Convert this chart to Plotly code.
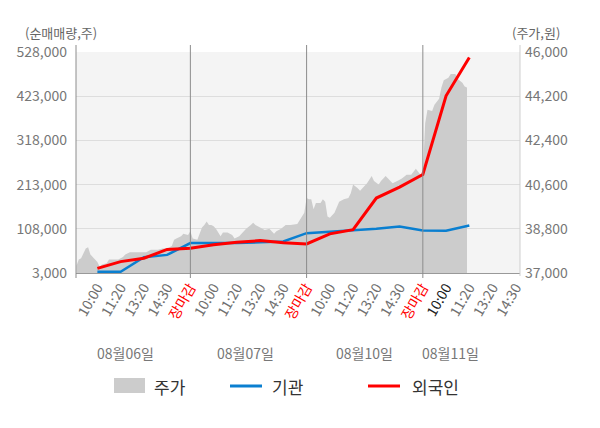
import plotly.graph_objects as go

# sample index: 10 samples per tick slot, 50 per trading day
price_idx = [1, 2, 3, 5, 6, 7, 9, 10, 11, 12, 14, 15, 17, 19, 21, 22, 24, 26, 29, 31,
             33, 36, 38, 40, 42, 43, 44, 46, 47, 49, 50, 51, 53, 55, 56, 57, 58, 59, 60, 61,
             63, 64, 66, 68, 69, 71, 72, 74, 76, 77, 78, 80, 82, 84, 86, 87, 89, 91, 93, 96,
             97, 98, 99, 100, 101, 102, 103, 104, 106, 107, 108, 109, 110, 112, 113, 114, 116, 118, 119, 120,
             122, 123, 124, 126, 128, 129, 131, 132, 134, 135, 137, 139, 141, 143, 145, 147, 148, 149, 150, 151,
             152, 154, 155, 157, 158, 159, 161, 162, 164, 165, 167, 168, 169]
price = [37300, 37550, 37600, 38000, 38050, 37750, 37550, 37450, 37250, 37350, 37400, 37550, 37550, 37550, 37650, 37750, 37850, 37850, 37850, 37850,
         37950, 37950, 38000, 38000, 38100, 38350, 38400, 38500, 38600, 38550, 38700, 38400, 38350, 38850, 38950, 39100, 38950, 38950, 38900, 38800,
         38500, 38650, 38650, 38550, 38400, 38500, 38600, 38800, 38950, 39050, 38950, 38850, 38750, 38800, 38600, 38700, 38800, 38950, 38950, 39000,
         39150, 39300, 39450, 40050, 40000, 40000, 39600, 39850, 39850, 40000, 39900, 39300, 39250, 39450, 39650, 39900, 40000, 40050, 40250, 40600,
         40450, 40350, 40450, 40650, 40950, 40750, 40600, 40750, 40950, 40850, 40650, 40750, 40850, 41000, 41000, 41250, 41100, 41000, 41000, 43100,
         43650, 43600, 43850, 44100, 44550, 44850, 44950, 45100, 45100, 44900, 44750, 44600, 44550]

flow_idx = [10, 20, 30, 40, 50, 60, 70, 80, 90, 100, 110, 120, 130, 140, 150, 160, 170]
institution = [6000, 6000, 40500, 46000, 74000, 74000, 74500, 76000, 78000, 97700,
               100800, 103200, 108000, 113500, 104000, 103200, 116000]
foreign = [14000, 30000, 38000, 59000, 62000, 70000, 76000, 80000, 75000, 72000,
           96000, 106000, 181000, 207000, 237000, 424000, 515000]

tick_idx = list(range(10, 200, 10))
day_times = ["10:00", "11:20", "13:20", "14:30", '<span style="color:#ff0000">장마감</span>']
tick_text = day_times * 3 + ['<span style="color:#222">10:00</span>', "11:20", "13:20", "14:30"]
day_sep = [50, 100, 150]
day_labels = ["08월06일", "08월07일", "08월10일", "08월11일"]
day_label_idx = [22, 73.5, 125, 162]

vol_ticks = [3000, 108000, 213000, 318000, 423000, 528000]
price_ticks = [37000, 38800, 40600, 42400, 44200, 46000]

FONT = "Noto Sans CJK KR"
W, H = 600, 428
L, R, T, B = 76, 520, 52, 273


def px(x):
    return (x - L) / (R - L)


def py(y):
    return (B - y) / (B - T)


fig = go.Figure()
fig.add_trace(go.Scatter(x=price_idx, y=price, mode="lines", fill="tozeroy",
                         fillcolor="#cccccc", line=dict(width=0, color="#cccccc"),
                         name="주가", yaxis="y"))
fig.add_trace(go.Scatter(x=flow_idx, y=institution, mode="lines", name="기관",
                         line=dict(color="#0a7fd0", width=2.5), yaxis="y2"))
fig.add_trace(go.Scatter(x=flow_idx, y=foreign, mode="lines", name="외국인",
                         line=dict(color="#ff0000", width=3), yaxis="y2"))

shapes = []
for s in day_sep:
    shapes.append(dict(type="line", xref="x", yref="paper", x0=s, x1=s, y0=py(278), y1=py(45),
                       line=dict(color="#8c8c8c", width=1)))
shapes.append(dict(type="line", xref="paper", yref="paper", x0=0, x1=0, y0=py(278), y1=py(45),
                   line=dict(color="#8c8c8c", width=1)))
shapes.append(dict(type="line", xref="paper", yref="paper", x0=1, x1=1, y0=py(276), y1=py(45),
                   line=dict(color="#cfcfcf", width=1)))
# legend
shapes.append(dict(type="rect", xref="paper", yref="paper", x0=px(114), x1=px(145),
                   y0=py(393), y1=py(378), fillcolor="#cccccc", line=dict(width=0)))
shapes.append(dict(type="line", xref="paper", yref="paper", x0=px(230), x1=px(262),
                   y0=py(386), y1=py(386), line=dict(color="#0a7fd0", width=3)))
shapes.append(dict(type="line", xref="paper", yref="paper", x0=px(368), x1=px(400),
                   y0=py(386), y1=py(386), line=dict(color="#ff0000", width=3)))

annotations = []
for xi, lab in zip(day_label_idx, day_labels):
    annotations.append(dict(x=xi, y=py(353), xref="x", yref="paper", text=lab, showarrow=False,
                            font=dict(size=14, color="#777777"), xanchor="center", yanchor="middle"))
for x0, lab in [(152, "주가"), (270, "기관"), (410, "외국인")]:
    annotations.append(dict(x=px(x0), y=py(386), xref="paper", yref="paper", text=lab, showarrow=False,
                            font=dict(size=17, color="#333333"), xanchor="left", yanchor="middle"))
annotations.append(dict(x=px(61), y=py(32), xref="paper", yref="paper", text="(순매매량,주)",
                        showarrow=False, font=dict(size=13, color="#666666"),
                        xanchor="center", yanchor="middle"))
annotations.append(dict(x=px(536), y=py(32), xref="paper", yref="paper", text="(주가,원)",
                        showarrow=False, font=dict(size=13, color="#666666"),
                        xanchor="center", yanchor="middle"))

fig.update_layout(
    width=W, height=H,
    margin=dict(l=L, r=W - R, t=T, b=H - B),
    paper_bgcolor="white", plot_bgcolor="#f4f4f4",
    font=dict(family=FONT, color="#666666"),
    showlegend=False,
    xaxis=dict(range=[0.8, 191.8], tickmode="array", tickvals=tick_idx, ticktext=tick_text,
               tickangle=-60, tickfont=dict(size=14, color="#707070"), showgrid=False,
               showline=True, linecolor="#999999", linewidth=1, zeroline=False),
    yaxis=dict(side="right", range=[37000, 46000], tickvals=price_ticks, tickformat=",",
               tickfont=dict(size=14, color="#777777"), showgrid=True, gridcolor="#dddddd",
               zeroline=False, ticklabelstandoff=4),
    yaxis2=dict(side="left", overlaying="y", range=[3000, 528000], tickvals=vol_ticks,
                tickformat=",", tickfont=dict(size=14, color="#777777"), showgrid=False,
                zeroline=False, ticklabelstandoff=8),
    shapes=shapes,
    annotations=annotations,
)

fig.write_html("out.html", config={"displayModeBar": False},
               post_script="document.body.style.margin='0';")
